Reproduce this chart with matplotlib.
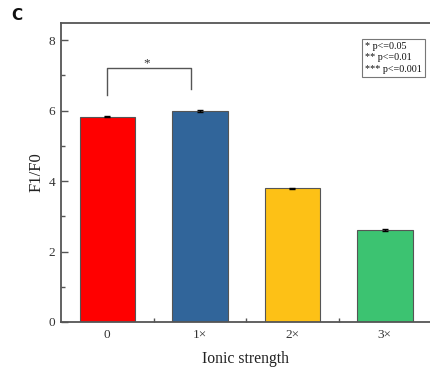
import matplotlib
matplotlib.use("Agg")
import matplotlib.pyplot as plt
from matplotlib.ticker import MultipleLocator, FixedLocator

categories = ["0", "1\u00d7", "2\u00d7", "3\u00d7"]
values = [5.83, 5.98, 3.79, 2.62]
errors = [0.02, 0.03, 0.02, 0.03]
colors = ["#FF0000", "#31659A", "#FDC116", "#3CC371"]
legend_lines = ["* p<=0.05", "** p<=0.01", "*** p<=0.001"]

serif = ["Liberation Serif", "DejaVu Serif"]
plt.rcParams["font.family"] = serif

fig = plt.figure(figsize=(4.30, 3.67), dpi=100)
ax = fig.add_axes([61 / 430, 1 - 322 / 367, 370 / 430, 299.5 / 367])

x = list(range(len(categories)))
ax.bar(x, values, width=0.6, color=colors, edgecolor="#555555", linewidth=0.8, zorder=2)
ax.errorbar(x, values, yerr=errors, fmt="none", ecolor="black", elinewidth=1.0,
            capsize=2.5, capthick=1.0, zorder=3)

ax.set_xlim(-0.5, 3.5)
ax.set_ylim(0, 8.5)
ax.set_xticks(x)
ax.set_xticklabels(categories)
ax.xaxis.set_minor_locator(FixedLocator([0.5, 1.5, 2.5]))
ax.yaxis.set_major_locator(MultipleLocator(2))
ax.yaxis.set_minor_locator(MultipleLocator(1))
ax.tick_params(axis="x", which="major", length=0, pad=5, labelsize=9.5, colors="#333333")
ax.tick_params(axis="x", which="minor", direction="in", length=3, width=1, color="#555555")
ax.tick_params(axis="y", which="major", direction="in", length=5, width=1, pad=4,
               labelsize=9.5, colors="#555555", labelcolor="#333333")
ax.tick_params(axis="y", which="minor", direction="in", length=3, width=1, color="#555555")

for s in ax.spines.values():
    s.set_color("#555555")
    s.set_linewidth(1.3)

ax.set_xlabel("Ionic strength", fontsize=11.3, labelpad=7, color="#222222")
ax.set_ylabel("F1/F0", fontsize=12, labelpad=3, color="#222222")

# significance bracket between the first two groups
ax.plot([0, 0, 0.9, 0.9], [6.45, 7.22, 7.22, 6.62], color="#555555", linewidth=1.0, zorder=3)
ax.text(0.43, 7.17, "*", ha="center", va="bottom", fontsize=9.5, color="#333333")

ax.text(0.822, 0.935, "\n".join(legend_lines), transform=ax.transAxes, ha="left", va="top",
        fontsize=7.3, linespacing=1.35, color="#111111",
        bbox=dict(boxstyle="square,pad=0.3", facecolor="white", edgecolor="#777777", linewidth=0.8))

fig.text(11 / 430, 1 - 16 / 367, "C", fontsize=11, fontweight="bold",
         family=["DejaVu Sans"], ha="left", va="center", color="#111111")

fig.savefig("out.png", dpi=100)
